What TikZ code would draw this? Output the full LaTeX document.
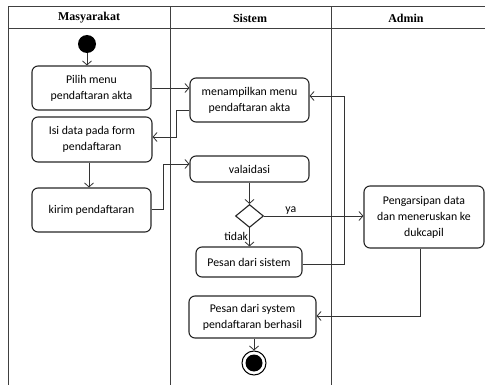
\documentclass[tikz,border=0pt]{standalone}
\usepackage{fontspec}
\setmainfont{Carlito}
\newfontfamily\headfont{Liberation Serif}
\usetikzlibrary{arrows.meta,shapes.geometric,calc}
\tikzset{
	activity/.style={
		rectangle,
		rounded corners=6pt,
		draw=black!85,
		line width=1.1pt,
		align=center,
		inner sep=2pt,
		font=\fontsize{11.8}{16}\selectfont
	},
	decision/.style={
		diamond,
		draw=black!85,
		line width=1.1pt,
		inner sep=0pt,
		minimum width=28pt,
		minimum height=23pt
	},
	lane/.style={
		draw=black!75,
		line width=1pt
	},
	flow/.style={
		draw=black!80,
		line width=0.8pt,
		-{Straight Barb[length=4pt,width=9pt]}
	},
	lanehead/.style={
		font=\headfont\bfseries\fontsize{12}{14}\selectfont
	},
	guard/.style={
		font=\fontsize{11.8}{13}\selectfont,
		inner sep=1pt
	},
}
\begin{document}
\begin{tikzpicture}[x=1pt,y=-1pt]
\useasboundingbox (0,0) rectangle (485,385);

% swimlanes
\draw[lane] (8,385) -- (8,7) -- (486,7);
\draw[lane] (8,29) -- (486,29);
\draw[lane] (170,7) -- (170,386);
\draw[lane] (331,7) -- (331,386);
\node[lanehead] (hmas) at (89,18) {Masyarakat};
\node[lanehead] (hsis) at (250,18) {Sistem};
\node[lanehead] (hadm) at (406,18) {Admin};

\node[circle,fill=black,minimum size=18pt,inner sep=0pt] (start) at (87,44) {};
	\node[activity,minimum width=119pt,minimum height=44pt] (pilih) at (91.5,88) {Pilih menu\\pendaftaran akta};
	\node[activity,minimum width=120pt,minimum height=45pt] (isi) at (92,139.5) {Isi data pada form\\pendaftaran};
	\node[activity,minimum width=119pt,minimum height=44pt] (kirim) at (91.5,210) {kirim pendaftaran};

	\node[activity,minimum width=119pt,minimum height=44pt] (tampil) at (249.5,100) {menampilkan menu\\pendaftaran akta};
	\node[activity,minimum width=119pt,minimum height=26pt] (validasi) at (249.5,169) {valaidasi};
	\node[decision] (cek) at (249.5,216) {};
	\node[activity,minimum width=106pt,minimum height=30pt] (pesan) at (249,262) {Pesan dari sistem};
	\node[activity,minimum width=127pt,minimum height=42pt] (berhasil) at (252.5,317) {Pesan dari system\\pendaftaran berhasil};
	\node[circle,draw=black,line width=1pt,minimum size=24pt,inner sep=0pt,
		path picture={\fill[black] (path picture bounding box.center) circle (8.5pt);}] (stop) at (254,363) {};

		\node[activity,minimum width=120pt,minimum height=62pt] (arsip) at (424,217) {Pengarsipan data\\dan meneruskan ke\\dukcapil};

\draw[flow] (start) -- (start |- pilih.north);
\draw[flow] (pilih.east) -- (tampil.west |- pilih.east);
\draw[flow] ($(tampil.west)+(0,10)$) -- ++(-13,0) |- ($(isi.east)+(0,-2.5)$);
\draw[flow] ($(isi.south)+(-3,0)$) -- ($(kirim.north)+(-2.5,0)$);
\draw[flow] ($(kirim.east)+(0,-1)$) -- ++(12,0) |- ($(validasi.west)+(0,-5)$);
\draw[flow] (validasi) -- (cek);
\draw[flow] (cek.east) -- (arsip.west |- cek.east) node[guard,pos=0.27,above] {ya};
\draw[flow] (cek.south) -- (pesan.north -| cek.south) node[guard,pos=0.45,left] {tidak};
\draw[flow] ($(pesan.east)+(0,2)$) -- ++(42,0) |- ($(tampil.east)+(0,-4)$);
\draw[flow] ($(arsip.south)+(-4,0)$) |- ($(berhasil.east)+(0,-1)$);
\draw[flow] (berhasil.south -| stop) -- (stop);

\end{tikzpicture}
\end{document}
